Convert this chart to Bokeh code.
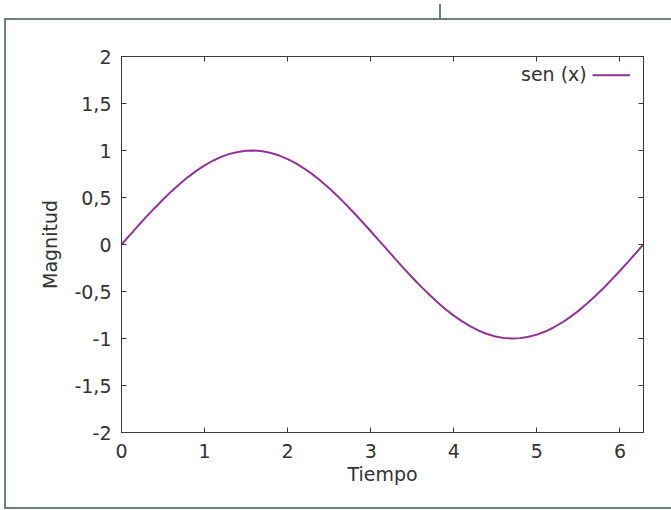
from bokeh.plotting import figure
from bokeh.models import LinearAxis, Range1d, Label, CustomJSTickFormatter, FixedTicker, InlineStyleSheet
from bokeh.embed import file_html
from bokeh.resources import INLINE

# ---- data ----
tiempo = [0.0, 0.1, 0.2, 0.3, 0.4, 0.5, 0.6, 0.7, 0.8, 0.9, 1.0, 1.1, 1.2, 1.3, 1.4,
          1.5, 1.6, 1.7, 1.8, 1.9, 2.0, 2.1, 2.2, 2.3, 2.4, 2.5, 2.6, 2.7, 2.8, 2.9,
          3.0, 3.1, 3.2, 3.3, 3.4, 3.5, 3.6, 3.7, 3.8, 3.9, 4.0, 4.1, 4.2, 4.3, 4.4,
          4.5, 4.6, 4.7, 4.8, 4.9, 5.0, 5.1, 5.2, 5.3, 5.4, 5.5, 5.6, 5.7, 5.8, 5.9,
          6.0, 6.1, 6.2, 6.28]
magnitud = [0.0, 0.1, 0.199, 0.296, 0.389, 0.479, 0.565, 0.644, 0.717, 0.783, 0.841,
            0.891, 0.932, 0.964, 0.985, 0.997, 1.0, 0.992, 0.974, 0.946, 0.909, 0.863,
            0.808, 0.746, 0.675, 0.598, 0.516, 0.427, 0.335, 0.239, 0.141, 0.042,
            -0.058, -0.158, -0.256, -0.351, -0.443, -0.53, -0.612, -0.688, -0.757,
            -0.818, -0.872, -0.916, -0.952, -0.978, -0.994, -1.0, -0.996, -0.982,
            -0.959, -0.926, -0.883, -0.832, -0.773, -0.706, -0.631, -0.551, -0.465,
            -0.374, -0.279, -0.182, -0.083, 0.0]
x_ticks = [0, 1, 2, 3, 4, 5, 6]
y_ticks = [-2, -1.5, -1, -0.5, 0, 0.5, 1, 1.5, 2]
y_tick_labels = ["-2", "-1,5", "-1", "-0,5", "0", "0,5", "1", "1,5", "2"]
x_label = "Tiempo"
y_label = "Magnitud"
series_name = "sen (x)"

FONT = "DejaVu Sans"
FS = "19px"
AXC = "#3a3a3a"
TXT = "#333333"
LINEC = "#94319a"
FRAMEC = "#6a827b"

W, H = 671, 510
p = figure(width=W, height=H, output_backend="svg", toolbar_location=None,
           x_range=Range1d(0, 6.2832), y_range=Range1d(-2, 2),
           min_border_left=121, min_border_right=28, min_border_top=56, min_border_bottom=78,
           x_axis_label=x_label, y_axis_label=y_label)
p.grid.visible = False
p.outline_line_color = AXC
p.outline_line_width = 1
p.background_fill_color = "white"
p.border_fill_color = "white"

def style_axis(ax, labels=True):
    ax.axis_line_color = AXC
    ax.axis_line_width = 1
    ax.major_tick_line_color = AXC
    ax.major_tick_in = 5
    ax.major_tick_out = 0
    ax.minor_tick_in = 0
    ax.minor_tick_out = 0
    ax.major_label_text_font = FONT
    ax.major_label_text_font_size = FS
    ax.major_label_text_color = TXT
    ax.axis_label_text_font = FONT
    ax.axis_label_text_font_size = FS
    ax.axis_label_text_font_style = "normal"
    ax.axis_label_text_color = TXT
    if not labels:
        ax.formatter = CustomJSTickFormatter(code="return ''")
        ax.major_label_standoff = 0

for ax in p.xaxis:
    style_axis(ax)
    ax.ticker = FixedTicker(ticks=x_ticks)
    ax.major_label_standoff = 11
    ax.axis_label_standoff = 2
for ax in p.yaxis:
    style_axis(ax)
    ax.ticker = FixedTicker(ticks=y_ticks)
    ax.major_label_overrides = dict(zip(y_ticks, y_tick_labels))
    ax.major_label_standoff = 10
    ax.axis_label_standoff = 10

top_ax = LinearAxis(ticker=FixedTicker(ticks=x_ticks))
style_axis(top_ax, labels=False)
p.add_layout(top_ax, "above")
right_ax = LinearAxis(ticker=FixedTicker(ticks=y_ticks))
style_axis(right_ax, labels=False)
p.add_layout(right_ax, "right")

p.line(tiempo, magnitud, line_color=LINEC, line_width=2)

# legend (gnuplot style: text then sample line)
p.add_layout(Label(x=5.60, y=1.815, text=series_name, text_align="right", text_baseline="middle",
                   text_font=FONT, text_font_size=FS, text_color=TXT))
p.segment(x0=[5.67], y0=[1.80], x1=[6.12], y1=[1.80], line_color=LINEC, line_width=2)

# outer page frame drawn with CSS pseudo-elements on the plot's host element
frame_css = f"""
:host {{ position: relative; }}
:host::after {{
  content: ""; position: absolute; box-sizing: border-box;
  left: 4px; top: 18px; width: {W - 4}px; height: 491px;
  border: 2px solid {FRAMEC}; border-right: none;
  pointer-events: none; z-index: 10;
}}
:host::before {{
  content: ""; position: absolute;
  left: 439px; top: 4px; width: 2px; height: 15px;
  background: {FRAMEC}; pointer-events: none; z-index: 10;
}}
"""
p.stylesheets = [InlineStyleSheet(css=frame_css)]

open("out.html", "w").write(file_html(p, INLINE))
